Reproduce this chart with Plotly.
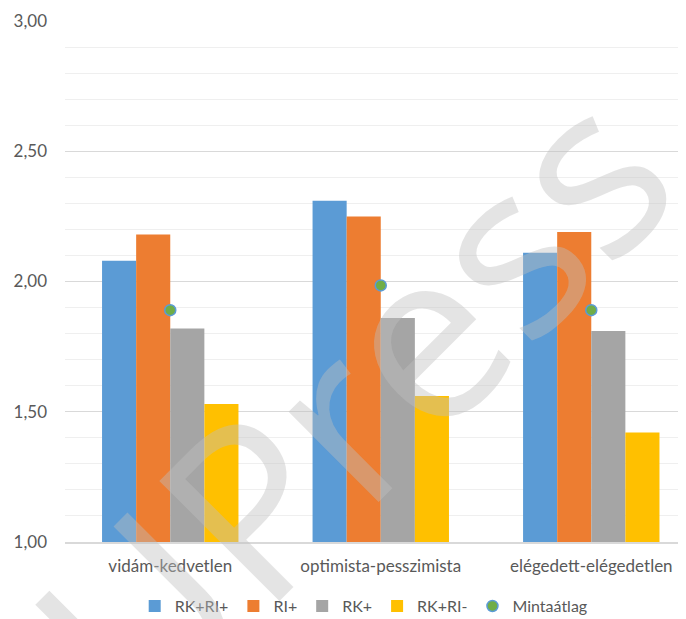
import plotly.graph_objects as go

categories = ["vidám-kedvetlen", "optimista-pesszimista", "elégedett-elégedetlen"]
series_names = ["RK+RI+", "RI+", "RK+", "RK+RI-"]
rk_ri_plus = [2.08, 2.31, 2.11]
ri_plus = [2.18, 2.25, 2.19]
rk_plus = [1.82, 1.86, 1.81]
rk_ri_minus = [1.53, 1.56, 1.42]
mean_name = "Mintaátlag"
mean_values = [1.89, 1.985, 1.89]
y_tickvals = [1.0, 1.5, 2.0, 2.5, 3.0]
y_ticktext = ["1,00", "1,50", "2,00", "2,50", "3,00"]

colors = ["#5B9BD5", "#ED7D31", "#A5A5A5", "#FFC000"]
font_family = "Lato, 'Open Sans', sans-serif"
text_color = "#595959"

fig = go.Figure()
for name, vals, col in zip(series_names, [rk_ri_plus, ri_plus, rk_plus, rk_ri_minus], colors):
    fig.add_trace(go.Bar(x=categories, y=vals, name=name, marker=dict(color=col, line=dict(width=0))))

fig.add_trace(go.Scatter(
    x=categories, y=mean_values, name=mean_name, mode="markers",
    marker=dict(color="#70AD47", size=11, line=dict(color="#5B9BD5", width=1.5)),
))

fig.add_annotation(
    text="UPress", xref="paper", yref="paper", x=0.458, y=0.27,
    xanchor="center", yanchor="middle",
    showarrow=False, textangle=-45,
    font=dict(family="Open Sans, sans-serif", size=238, color="rgba(190,190,190,0.42)"),
)

fig.update_layout(
    width=678, height=611,
    margin=dict(l=57, r=0, t=13, b=77, autoexpand=False),
    paper_bgcolor="white", plot_bgcolor="white",
    barmode="group", bargap=0.352, bargroupgap=0,
    font=dict(family=font_family, size=17, color=text_color),
    showlegend=True,
    legend=dict(orientation="h", x=0.481, xanchor="center", y=-0.123, yanchor="middle",
                font=dict(size=16, color=text_color), itemwidth=30, tracegroupgap=0),
    xaxis=dict(range=[-0.5, 2.45], showgrid=False, showline=True, linecolor="#D9D9D9",
               linewidth=1.5, ticks="", tickfont=dict(size=17, color=text_color),
               ticklabelstandoff=8, automargin=False, fixedrange=True),
    yaxis=dict(range=[1.0, 3.0], tickvals=y_tickvals, ticktext=y_ticktext,
               showgrid=True, gridcolor="#D9D9D9", gridwidth=1, zeroline=False,
               showline=False, ticks="", ticklabelstandoff=17, automargin=False,
               tickfont=dict(size=17, color=text_color),
               minor=dict(dtick=0.1, showgrid=True, gridcolor="#EFEFEF", gridwidth=1, tick0=1.0)),
)

fig.write_html("out.html")
